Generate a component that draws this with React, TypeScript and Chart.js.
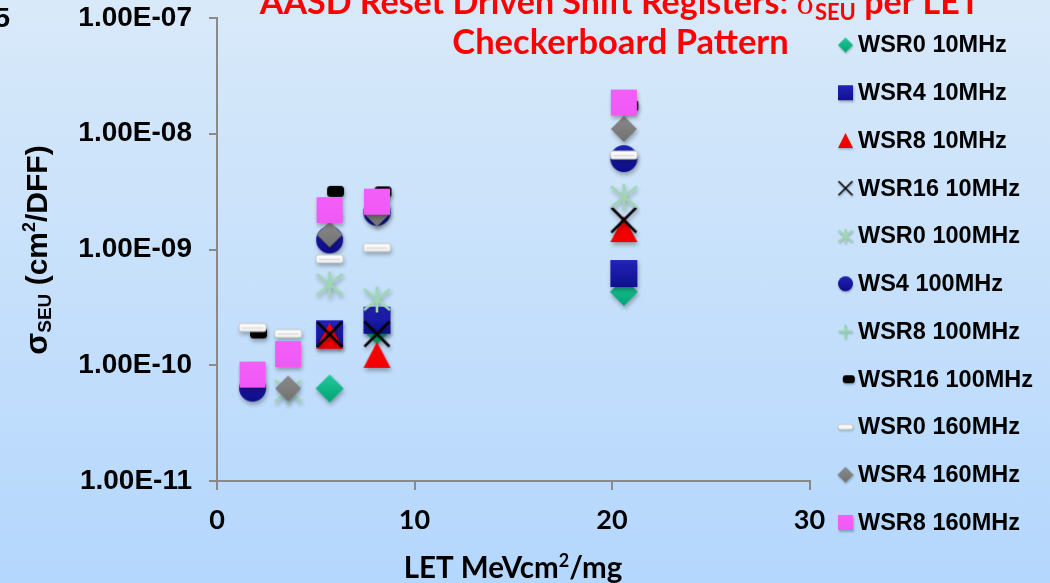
import React, { useEffect, useRef } from 'react';
import { Chart, registerables } from 'chart.js';

Chart.register(...registerables);

// ---------- DATA ----------
const seriesNames = [
  'WSR0 10MHz', 'WSR4 10MHz', 'WSR8 10MHz', 'WSR16 10MHz', 'WSR0 100MHz', 'WS4 100MHz',
  'WSR8 100MHz', 'WSR16 100MHz', 'WSR0 160MHz', 'WSR4 160MHz', 'WSR8 160MHz',
];

const wsr0_10_let = [5.7, 8.1, 20.6];
const wsr0_10_sigma = [6.3e-11, 2.0e-10, 4.3e-10];
const wsr4_10_let = [5.7, 8.1, 20.6];
const wsr4_10_sigma = [1.87e-10, 2.45e-10, 6.2e-10];
const wsr8_10_let = [5.7, 8.1, 20.6];
const wsr8_10_sigma = [1.8e-10, 1.23e-10, 1.5e-9];
const wsr16_10_let = [5.7, 8.1, 20.6];
const wsr16_10_sigma = [1.85e-10, 1.86e-10, 1.8e-9];
const wsr0_100_let = [3.6, 5.7, 8.1, 20.6];
const wsr0_100_sigma = [6.0e-11, 5.0e-10, 3.7e-10, 2.85e-9];
const ws4_100_let = [1.8, 5.7, 8.1, 20.6];
const ws4_100_sigma = [6.35e-11, 1.21e-9, 2.1e-9, 6.1e-9];
const wsr8_100_let = [5.7, 8.1, 20.6];
const wsr8_100_sigma = [2.0e-9, 2.4e-9, 1.8e-8];
const wsr16_100_let = [1.8, 5.7, 8.1, 20.6];
const wsr16_100_sigma = [1.9e-10, 3.18e-9, 3.15e-9, 1.75e-8];
const wsr0_160_let = [1.8, 3.6, 5.7, 8.1, 20.6];
const wsr0_160_sigma = [2.12e-10, 1.88e-10, 8.3e-10, 1.04e-9, 6.55e-9];
const wsr4_160_let = [3.6, 5.7, 8.1, 20.6];
const wsr4_160_sigma = [6.3e-11, 1.35e-9, 2.04e-9, 1.1e-8];
const wsr8_160_let = [1.8, 3.6, 5.7, 8.1, 20.6];
const wsr8_160_sigma = [8.3e-11, 1.25e-10, 2.19e-9, 2.59e-9, 1.86e-8];

const yTickValues = [1e-11, 1e-10, 1e-9, 1e-8, 1e-7];
const yTickLabels = ['1.00E-11', '1.00E-10', '1.00E-09', '1.00E-08', '1.00E-07'];
const xTickValues = [0, 10, 20, 30];

const seriesLet = [wsr0_10_let, wsr4_10_let, wsr8_10_let, wsr16_10_let, wsr0_100_let, ws4_100_let,
  wsr8_100_let, wsr16_100_let, wsr0_160_let, wsr4_160_let, wsr8_160_let];
const seriesSigma = [wsr0_10_sigma, wsr4_10_sigma, wsr8_10_sigma, wsr16_10_sigma, wsr0_100_sigma, ws4_100_sigma,
  wsr8_100_sigma, wsr16_100_sigma, wsr0_160_sigma, wsr4_160_sigma, wsr8_160_sigma];

// ---------- STYLES ----------
type MStyle = { kind: string; top: string; bottom: string; w: number; h: number; lw: number; lw2: number; lgW: number; lgH: number; off: number };
const markerStyles: MStyle[] = [
  { kind: 'diamond', top: '#22c99b', bottom: '#00a474', w: 28, h: 28, lw: 0, lw2: 0, lgW: 15, lgH: 15, off: 0 },
  { kind: 'square', top: '#2323b8', bottom: '#10108f', w: 27, h: 27, lw: 0, lw2: 0, lgW: 15, lgH: 15, off: 0 },
  { kind: 'triangle', top: '#ff0000', bottom: '#f00000', w: 27, h: 26, lw: 0, lw2: 0, lgW: 15, lgH: 15, off: 0 },
  { kind: 'x', top: '#000000', bottom: '#000000', w: 25, h: 25, lw: 2.6, lw2: 1.7, lgW: 14, lgH: 14, off: 0 },
  { kind: 'asterisk', top: '#9fd6b2', bottom: '#9fd6b2', w: 26, h: 26, lw: 2.6, lw2: 2, lgW: 14, lgH: 14, off: 0 },
  { kind: 'circle', top: '#2323b5', bottom: '#0c0c88', w: 27, h: 27, lw: 0, lw2: 0, lgW: 15, lgH: 15, off: 0 },
  { kind: 'plus', top: '#8ed8a8', bottom: '#8ed8a8', w: 26, h: 26, lw: 2.6, lw2: 2, lgW: 14, lgH: 14, off: 0 },
  { kind: 'blackbar', top: '#000000', bottom: '#000000', w: 17, h: 11, lw: 0, lw2: 0, lgW: 12, lgH: 8, off: 6 },
  { kind: 'whitebar', top: '#ffffff', bottom: '#f2f2f2', w: 27, h: 8, lw: 0, lw2: 0, lgW: 15, lgH: 5, off: 0 },
  { kind: 'diamond', top: '#8a8a8a', bottom: '#727272', w: 26, h: 26, lw: 0, lw2: 0, lgW: 16, lgH: 16, off: 0 },
  { kind: 'square', top: '#f45ff8', bottom: '#f058f5', w: 26, h: 26, lw: 0, lw2: 0, lgW: 15, lgH: 15, off: 0 },
];

function roundRectPath(ctx: CanvasRenderingContext2D, x: number, y: number, w: number, h: number, r: number) {
  ctx.beginPath();
  ctx.moveTo(x + r, y);
  ctx.lineTo(x + w - r, y);
  ctx.quadraticCurveTo(x + w, y, x + w, y + r);
  ctx.lineTo(x + w, y + h - r);
  ctx.quadraticCurveTo(x + w, y + h, x + w - r, y + h);
  ctx.lineTo(x + r, y + h);
  ctx.quadraticCurveTo(x, y + h, x, y + h - r);
  ctx.lineTo(x, y + r);
  ctx.quadraticCurveTo(x, y, x + r, y);
  ctx.closePath();
}

function makeMarker(s: MStyle, legend: boolean): HTMLCanvasElement {
  const w = legend ? s.lgW : s.w;
  const h = legend ? s.lgH : s.h;
  const lw = legend ? s.lw2 : s.lw;
  const off = legend ? s.off * 0.55 : s.off;
  const pad = 10;
  const c = document.createElement('canvas');
  c.width = Math.round(w + pad * 2 + Math.abs(off) * 2);
  c.height = Math.round(h + pad * 2);
  const ctx = c.getContext('2d')!;
  const cx = c.width / 2 + off;
  const cy = c.height / 2;
  if (!legend) {
    ctx.shadowColor = 'rgba(0,0,0,0.30)';
    ctx.shadowBlur = 4;
    ctx.shadowOffsetX = 1;
    ctx.shadowOffsetY = 3;
  } else {
    ctx.shadowColor = 'rgba(0,0,0,0.25)';
    ctx.shadowBlur = 2;
    ctx.shadowOffsetX = 0.5;
    ctx.shadowOffsetY = 1.5;
  }
  const g = ctx.createLinearGradient(0, cy - h / 2, 0, cy + h / 2);
  g.addColorStop(0, s.top);
  g.addColorStop(1, s.bottom);
  ctx.fillStyle = g;
  ctx.strokeStyle = s.top;
  ctx.lineWidth = lw;
  ctx.lineCap = 'butt';
  switch (s.kind) {
    case 'diamond':
      ctx.beginPath();
      ctx.moveTo(cx, cy - h / 2);
      ctx.lineTo(cx + w / 2, cy);
      ctx.lineTo(cx, cy + h / 2);
      ctx.lineTo(cx - w / 2, cy);
      ctx.closePath();
      ctx.fill();
      break;
    case 'square':
      ctx.fillRect(cx - w / 2, cy - h / 2, w, h);
      break;
    case 'triangle':
      ctx.beginPath();
      ctx.moveTo(cx, cy - h / 2);
      ctx.lineTo(cx + w / 2, cy + h / 2);
      ctx.lineTo(cx - w / 2, cy + h / 2);
      ctx.closePath();
      ctx.fill();
      break;
    case 'circle':
      ctx.beginPath();
      ctx.arc(cx, cy, w / 2, 0, Math.PI * 2);
      ctx.fill();
      break;
    case 'x':
      ctx.beginPath();
      ctx.moveTo(cx - w / 2, cy - h / 2);
      ctx.lineTo(cx + w / 2, cy + h / 2);
      ctx.moveTo(cx + w / 2, cy - h / 2);
      ctx.lineTo(cx - w / 2, cy + h / 2);
      ctx.stroke();
      break;
    case 'asterisk':
      ctx.beginPath();
      ctx.moveTo(cx, cy - h / 2);
      ctx.lineTo(cx, cy + h / 2);
      ctx.moveTo(cx - w / 2, cy - h * 0.4);
      ctx.lineTo(cx + w / 2, cy + h * 0.4);
      ctx.moveTo(cx + w / 2, cy - h * 0.4);
      ctx.lineTo(cx - w / 2, cy + h * 0.4);
      ctx.stroke();
      break;
    case 'plus':
      ctx.beginPath();
      ctx.moveTo(cx, cy - h / 2);
      ctx.lineTo(cx, cy + h / 2);
      ctx.moveTo(cx - w / 2, cy);
      ctx.lineTo(cx + w / 2, cy);
      ctx.stroke();
      break;
    case 'blackbar':
      roundRectPath(ctx, cx - w / 2, cy - h / 2, w, h, Math.min(3.5, h / 2.5));
      ctx.fill();
      break;
    case 'whitebar':
      roundRectPath(ctx, cx - w / 2, cy - h / 2, w, h, 2);
      ctx.fill();
      ctx.shadowColor = 'transparent';
      ctx.strokeStyle = '#c4c4c4';
      ctx.lineWidth = 1;
      ctx.stroke();
      if (!legend) {
        ctx.strokeStyle = '#dcdcdc';
        ctx.lineWidth = 1.5;
        ctx.beginPath();
        ctx.moveTo(cx - w / 2 + 3, cy + 0.5);
        ctx.lineTo(cx + w / 2 - 3, cy + 0.5);
        ctx.stroke();
      }
      break;
  }
  return c;
}

type Run = { t: string; font: string; dy?: number };
function drawRuns(ctx: CanvasRenderingContext2D, runs: Run[], x: number, y: number) {
  let total = 0;
  runs.forEach((r) => { ctx.font = r.font; total += ctx.measureText(r.t).width; });
  let cx = x - total / 2;
  ctx.textAlign = 'left';
  ctx.textBaseline = 'alphabetic';
  runs.forEach((r) => {
    ctx.font = r.font;
    ctx.fillText(r.t, cx, y + (r.dy || 0));
    cx += ctx.measureText(r.t).width;
  });
}

export default function App() {
  const ref = useRef<HTMLCanvasElement | null>(null);
  useEffect(() => {
    if (!ref.current) return;
    const dataMarkers = markerStyles.map((s) => makeMarker(s, false));
    const legendMarkers = markerStyles.map((s) => makeMarker(s, true));

    const datasets = seriesNames.map((name, i) => ({
      label: name,
      data: seriesLet[i].map((x, j) => ({ x, y: seriesSigma[i][j] })),
      pointStyle: dataMarkers[i] as any,
      pointRadius: 10,
      pointHoverRadius: 10,
      showLine: false,
      order: seriesNames.length - i,
    }));

    const textPlugin = {
      id: 'texts',
      afterDraw(chart: any) {
        const ctx: CanvasRenderingContext2D = chart.ctx;
        ctx.save();
        // Title
        ctx.fillStyle = '#ff0000';
        drawRuns(ctx, [
          { t: 'AASD Reset Driven Shift Registers: ', font: 'bold 34px Lato' },
          { t: 'σ', font: '34px "Liberation Serif"' },
          { t: 'SEU', font: 'bold 22px Lato', dy: 6 },
          { t: ' per LET', font: 'bold 34px Lato' },
        ], 620, 14);
        drawRuns(ctx, [{ t: 'Checkerboard Pattern', font: 'bold 34.5px Lato' }], 620.5, 54);

        // X axis title
        ctx.fillStyle = '#000000';
        drawRuns(ctx, [
          { t: 'LET MeVcm', font: 'bold 29.5px Lato' },
          { t: '2', font: 'bold 18px Lato', dy: -11 },
          { t: '/mg', font: 'bold 29.5px Lato' },
        ], 513, 578);

        // Y axis title
        ctx.save();
        ctx.translate(47, 250);
        ctx.rotate(-Math.PI / 2);
        drawRuns(ctx, [
          { t: 'σ', font: 'bold 32px "Liberation Sans"' },
          { t: 'SEU', font: 'bold 19px "Liberation Sans"', dy: 4 },
          { t: ' (cm', font: 'bold 30px "Liberation Sans"' },
          { t: '2', font: 'bold 18px "Liberation Sans"', dy: -12 },
          { t: '/DFF)', font: 'bold 30px "Liberation Sans"' },
        ], 0, 0);
        ctx.restore();

        // cut-off fragment at top-left
        ctx.font = 'bold 28px "Liberation Sans"';
        ctx.textAlign = 'right';
        ctx.textBaseline = 'alphabetic';
        ctx.fillText('5', 10, 27);

        // Legend
        ctx.font = 'bold 23.5px "Liberation Sans"';
        ctx.textAlign = 'left';
        ctx.textBaseline = 'middle';
        seriesNames.forEach((name, i) => {
          const y = 45 + i * 47.75;
          const m = legendMarkers[i];
          ctx.drawImage(m, 845.5 - m.width / 2, y - m.height / 2);
          ctx.fillStyle = '#000000';
          ctx.fillText(name, 858, y + 1);
        });
        ctx.restore();
      },
    };

    const axisGray = '#898989';
    const chart = new Chart(ref.current, {
      type: 'scatter',
      data: { datasets: datasets as any },
      options: {
        responsive: false,
        animation: false,
        events: [],
        layout: { padding: { left: 0, top: 18, right: 240.5, bottom: 0 } },
        plugins: { legend: { display: false }, tooltip: { enabled: false }, title: { display: false } },
        scales: {
          x: {
            type: 'linear',
            min: 0,
            max: 30,
            afterBuildTicks: (s: any) => { s.ticks = xTickValues.map((v) => ({ value: v })); },
            afterFit: (s: any) => { s.height = 102; s.paddingLeft = 0; s.paddingRight = 0; },
            ticks: {
              color: '#000000',
              font: { family: 'Lato', weight: 'bold', size: 27 },
              padding: 14,
              maxRotation: 0,
              autoSkip: false,
            },
            grid: { display: true, drawOnChartArea: false, drawTicks: true, tickLength: 9, color: axisGray, lineWidth: 2 },
            border: { display: true, color: axisGray, width: 2 },
          },
          y: {
            type: 'logarithmic',
            min: 1e-11,
            max: 1e-7,
            afterBuildTicks: (s: any) => { s.ticks = yTickValues.map((v) => ({ value: v })); },
            afterFit: (s: any) => { s.width = 217; s.paddingTop = 0; s.paddingBottom = 0; },
            ticks: {
              color: '#000000',
              font: { family: '"Liberation Sans", Arial', weight: 'bold', size: 28 },
              padding: 17,
              autoSkip: false,
              callback: (v: any) => {
                const idx = yTickValues.findIndex((t) => Math.abs(t - Number(v)) / t < 1e-6);
                return idx >= 0 ? yTickLabels[idx] : '';
              },
            },
            grid: { display: true, drawOnChartArea: false, drawTicks: true, tickLength: 8, color: axisGray, lineWidth: 2 },
            border: { display: true, color: axisGray, width: 2 },
          },
        },
      },
      plugins: [textPlugin],
    });
    return () => chart.destroy();
  }, []);

  return (
    <div
      style={{
        position: 'fixed',
        left: 0,
        top: 0,
        width: 1050,
        height: 583,
        background: 'linear-gradient(to bottom, #d8e9f9 0%, #c6e0fb 50%, #b4d7fd 100%)',
        overflow: 'hidden',
      }}
    >
      <canvas ref={ref} width={1050} height={583} style={{ display: 'block' }} />
    </div>
  );
}
